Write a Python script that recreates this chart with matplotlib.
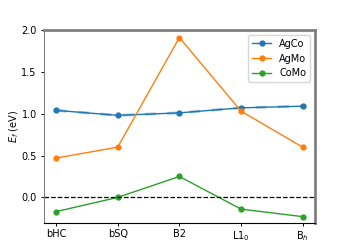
import matplotlib
matplotlib.use('Agg')
from matplotlib import pyplot as plt
import numpy as np

structures = ['bHC', 'bSQ', 'B2', 'L1$_0$', 'B$_h$']
ag_co = [1.04, 0.98, 1.01, 1.07, 1.09]
ag_mo = [0.47, 0.60, 1.91, 1.03, 0.60]
co_mo = [-0.17, 0.00, 0.25, -0.14, -0.23]


def main():
    plt.rcParams['font.size'] = 7
    fig, ax = plt.subplots(figsize=(3.5, 2.5), dpi=100)
    x = np.arange(len(structures))

    ax.plot(x, ag_co, '-o', color='#1f77b4', lw=1, ms=3.5, label='AgCo')
    ax.plot(x, ag_co, '--', color='#1f77b4', lw=2, alpha=0.45, dashes=(4, 4))
    ax.plot(x, ag_mo, '-o', color='#ff7f0e', lw=1, ms=3.5, label='AgMo')
    ax.plot(x, co_mo, '-o', color='#2ca02c', lw=1, ms=3.5, label='CoMo')
    ax.axhline(0, color='black', ls='--', lw=0.9)

    ax.set_xticks(x)
    ax.set_xticklabels(structures)
    ax.set_ylim(-0.3, 2.0)
    ax.set_yticks([0.0, 0.5, 1.0, 1.5, 2.0])
    ax.set_ylabel('$E_f$ (eV)', labelpad=0.5)
    ax.tick_params(length=2.5, pad=2.5, width=0.7)

    for side in ['top', 'right']:
        ax.spines[side].set_color('grey')
        ax.spines[side].set_linewidth(2)
    ax.spines['left'].set_color('grey')
    ax.spines['bottom'].set_color('black')

    ax.legend(loc='upper right', fontsize=7)
    fig.savefig('out.png', dpi=100)


if __name__ == '__main__':
    main()
